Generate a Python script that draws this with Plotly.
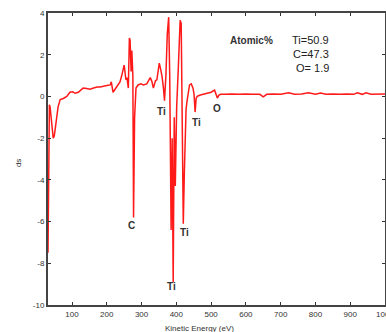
import plotly.graph_objects as go

energy = [31, 32, 33, 35, 37, 40, 43, 46, 49, 53, 57, 60, 66, 75, 85, 94, 102, 109, 118, 125, 132, 142,
          152, 162, 172, 181, 190, 200, 210, 213, 218, 224, 230, 238, 243, 247, 250, 255, 258, 262, 265,
          267, 270, 272, 275, 277, 280, 284, 290, 298, 305, 315, 325, 330, 334, 340, 344, 348, 351, 355,
          359, 363, 366, 370, 374, 378, 381, 385, 388, 391, 394, 397, 401, 406, 411, 414, 417, 420, 423,
          428, 431, 434, 438, 443, 448, 451, 454, 457, 460, 469, 479, 489, 500, 510, 514, 518, 522, 527,
          540, 560, 580, 600, 620, 640, 650, 660, 680, 700, 723, 740, 760, 780, 800, 815, 830, 850, 870,
          890, 910, 920, 935, 945, 960, 980, 1000]
ds = [-7.5, -5.5, -2.4, -0.4, -0.5, -0.9, -1.5, -2.0, -1.9, -1.4, -0.9, -0.5, -0.15, -0.1, 0.0, 0.2, 0.22,
      0.15, 0.2, 0.3, 0.4, 0.38, 0.35, 0.4, 0.45, 0.45, 0.5, 0.52, 0.55, 0.7, 0.2, 0.35, 0.45, 0.7, 1.0,
      1.4, 1.5, 0.8, 0.9, 0.4, 2.8, 2.7, 1.2, 2.2, 1.0, -5.8, -1.0, 0.4, 0.55, 0.6, 0.55, 0.6, 0.9, 0.7,
      0.4, 0.75, 0.8, 1.2, 1.6, 1.3, 0.95, 0.4, -0.2, 1.0, 3.0, 3.8, 1.0, -6.4, -2.0, -8.9, -1.0, -4.3,
      -0.5, 1.5, 3.65, 3.5, -2.0, -6.1, -3.7, -0.6, -0.2, 0.05, 0.55, 0.6, 0.4, 0.1, -0.75, -0.1, 0.0,
      0.07, 0.12, 0.15, 0.2, 0.3, 0.15, -0.08, 0.05, 0.1, 0.1, 0.12, 0.1, 0.12, 0.1, 0.1, -0.02, 0.1,
      0.12, 0.1, 0.18, 0.1, 0.12, 0.18, 0.1, 0.16, 0.1, 0.12, 0.1, 0.12, 0.1, 0.17, 0.1, 0.17, 0.1,
      0.12, 0.12]

x_ticks = [100, 200, 300, 400, 500, 600, 700, 800, 900, 1000]
y_ticks = [4, 2, 0, -2, -4, -6, -8, -10]

peak_labels = ["C", "Ti", "Ti", "Ti", "Ti", "O"]
peak_x = [270, 357, 385, 423, 457, 518]
peak_y = [-6.2, -0.7, -9.1, -6.5, -1.27, -0.6]

composition = ["Atomic%", "Ti=50.9", "C=47.3", "O= 1.9"]
comp_x = [616, 844, 844, 844]
comp_y = [2.7, 2.7, 2.03, 1.36]

fig = go.Figure()
fig.add_trace(go.Scatter(x=energy, y=ds, mode="lines",
                         line=dict(color="#ff1a1a", width=1.5), showlegend=False))

for lab, px, py in zip(peak_labels, peak_x, peak_y):
    fig.add_annotation(x=px, y=py, text="<b>%s</b>" % lab, showarrow=False,
                       font=dict(family="Liberation Sans", size=10, color="#333"),
                       xanchor="center", yanchor="middle")

fig.add_annotation(x=comp_x[0], y=comp_y[0], text="<b>%s</b>" % composition[0], showarrow=False,
                   xanchor="center", yanchor="middle",
                   font=dict(family="Liberation Sans", size=10, color="#333"))
for t, cx, cy in zip(composition[1:], comp_x[1:], comp_y[1:]):
    fig.add_annotation(x=cx, y=cy, text=t, showarrow=False, xanchor="right", yanchor="middle",
                       font=dict(family="Liberation Sans", size=11, color="#222"))

fig.add_annotation(xref="paper", yref="paper", x=0.451, y=-0.079, text="Kinetic Energy (eV)",
                   showarrow=False, font=dict(family="Liberation Sans", size=8, color="#333"),
                   xanchor="center", yanchor="middle")
fig.add_annotation(xref="paper", yref="paper", x=-0.089, y=0.486, text="ds", textangle=-90,
                   showarrow=False, font=dict(family="Liberation Sans", size=8, color="#333"),
                   xanchor="center", yanchor="middle")

axis_common = dict(showline=True, linecolor="#444", linewidth=2, mirror="ticks",
                   ticks="inside", ticklen=3, tickcolor="#333", showgrid=False, zeroline=False,
                   ticklabeloverflow="allow",
                   tickfont=dict(family="Liberation Sans", size=8, color="#333"), automargin=False)
fig.update_xaxes(range=[31, 1000], tickvals=x_ticks, ticktext=[str(v) for v in x_ticks], **axis_common)
fig.update_yaxes(range=[-10, 4], tickvals=y_ticks, ticktext=[str(v) for v in y_ticks], **axis_common)

fig.update_layout(width=386, height=332, margin=dict(l=48, r=1, t=13, b=27),
                  plot_bgcolor="white", paper_bgcolor="white")
fig.write_html("out.html", config={"displayModeBar": False},
               post_script="document.body.style.margin='0';document.body.style.overflow='hidden';")
